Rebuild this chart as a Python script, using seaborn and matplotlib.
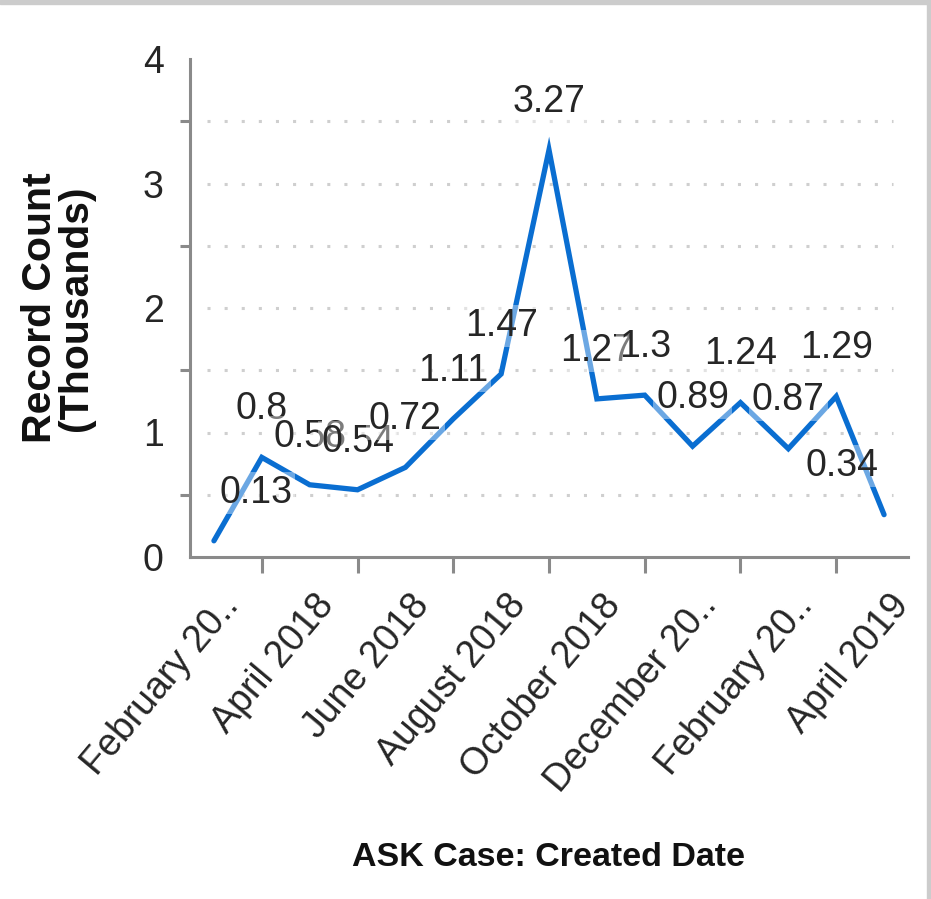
import matplotlib
matplotlib.use("Agg")
import matplotlib.pyplot as plt
from matplotlib import font_manager
from matplotlib.patches import Rectangle
from matplotlib.transforms import ScaledTranslation
import numpy as np
import pandas as pd
import seaborn as sns

# Monthly record counts (thousands) for ASK cases, Feb 2018 - Apr 2019
months = [
    "February 2018", "March 2018", "April 2018", "May 2018", "June 2018",
    "July 2018", "August 2018", "September 2018", "October 2018",
    "November 2018", "December 2018", "January 2019", "February 2019",
    "March 2019", "April 2019",
]
record_thousands = [0.13, 0.8, 0.58, 0.54, 0.72, 1.11, 1.47, 3.27,
                    1.27, 1.3, 0.89, 1.24, 0.87, 1.29, 0.34]
value_labels = ["0.13", "0.8", "0.58", "0.54", "0.72", "1.11", "1.47", "3.27",
                "1.27", "1.3", "0.89", "1.24", "0.87", "1.29", "0.34"]
# every other month is labelled on the date axis
tick_labels = ["February 20..", "April 2018", "June 2018", "August 2018",
               "October 2018", "December 20..", "February 20..", "April 2019"]
y_major = [0, 1, 2, 3, 4]
y_minor = [0.5, 1.5, 2.5, 3.5]

LINE_BLUE = "#0A6ED1"
AXIS_GRAY = "#8a8a8a"
GRID_GRAY = "#cfcfcf"
TEXT_DARK = "#262626"


def pick_font(*names):
    for name in names:
        try:
            font_manager.findfont(font_manager.FontProperties(family=name),
                                  fallback_to_default=False)
            return name
        except Exception:
            continue
    return "DejaVu Sans"


sns.set_theme(style="white")
NARROW = pick_font("Liberation Sans Narrow", "Liberation Sans", "Arial")
REGULAR = pick_font("Liberation Sans", "Arial")
plt.rcParams["font.family"] = [REGULAR, "DejaVu Sans"]

df = pd.DataFrame({"month": months, "pos": np.arange(len(months)),
                   "count": record_thousands})

fig = plt.figure(figsize=(9.31, 8.99), dpi=100)
fig.patch.set_facecolor("white")
ax = fig.add_axes([190 / 931, (899 - 557) / 899, 718 / 931, 498 / 899])
ax.set_facecolor("white")

sns.lineplot(data=df, x="pos", y="count", color=LINE_BLUE, linewidth=3.8,
             ax=ax, zorder=3, solid_joinstyle="miter")

ax.set_xlim(-0.5, len(months) - 0.5)
ax.set_ylim(y_major[0], y_major[-1])

# dotted horizontal guides at every half step (not at the frame edges)
for level in y_minor + y_major[1:-1]:
    ax.hlines(level, -0.15, len(months) - 0.81, colors=GRID_GRAY,
              linewidth=2.2, linestyles=[(0, (1, 4.6))], zorder=1)

# value labels above each point, on a translucent white backing
for i, (v, txt) in enumerate(zip(record_thousands, value_labels)):
    dx = 0
    if i == 0:
        dx = 30
    elif i == len(months) - 1:
        dx = -30
    ax.annotate(txt, (i, v), xytext=(dx, 27.5), textcoords="offset points",
                ha="center", va="baseline", fontsize=27, family=NARROW,
                color=TEXT_DARK, zorder=5,
                bbox=dict(boxstyle="square,pad=0.08", fc="white", ec="none",
                          alpha=0.4))

# axes frame
for side in ("top", "right"):
    ax.spines[side].set_visible(False)
for side in ("left", "bottom"):
    ax.spines[side].set_color(AXIS_GRAY)
    ax.spines[side].set_linewidth(2.2)

ax.set_yticks(y_major)
ax.set_yticks(y_minor, minor=True)
ax.set_yticklabels([str(t) for t in y_major], family=NARROW, fontsize=27,
                   color=TEXT_DARK)
ax.tick_params(axis="y", which="major", length=9.4, width=2.2,
               color=AXIS_GRAY, pad=9.5)
ax.tick_params(axis="y", which="minor", length=7, width=2.2, color=AXIS_GRAY,
               left=True)

label_pos = df["pos"].to_numpy()[::2]
ax.set_xticks(label_pos)
ax.set_xticks(df["pos"].to_numpy()[1::2], minor=True)
ax.set_xticklabels(tick_labels, rotation=50, ha="right", va="center",
                   rotation_mode="anchor", fontsize=27, family=REGULAR,
                   color=TEXT_DARK)
ax.tick_params(axis="x", which="major", length=0, pad=30.5)
ax.tick_params(axis="x", which="minor", length=11.5, width=2.2,
               color=AXIS_GRAY, bottom=True)
shift = ScaledTranslation(0.18, 0, fig.dpi_scale_trans)
for lab in ax.get_xticklabels():
    lab.set_transform(lab.get_transform() + shift)

ax.set_xlabel("ASK Case: Created Date", family=NARROW, fontsize=24.5,
              fontweight="bold", color="#111111")
ax.xaxis.label.set_va("center")
ax.xaxis.set_label_coords(0.5, (557 - 858) / 498)

ax.set_ylabel("Record Count\n(Thousands)", family=REGULAR, fontsize=29.5,
              fontweight="bold", color="#111111", linespacing=0.95)
ax.yaxis.label.set_va("center")
ax.yaxis.label.set_ha("center")
ax.yaxis.set_label_coords((58 - 190) / 718, 0.5)

# light frame along the top and right edges of the panel
fig.patches.append(Rectangle((0, 1 - 4 / 899), 1, 4 / 899,
                             transform=fig.transFigure, color="#cccccc",
                             zorder=0))
fig.patches.append(Rectangle((1 - 4 / 931, 0), 4 / 931, 1,
                             transform=fig.transFigure, color="#cccccc",
                             zorder=0))

fig.savefig("out.png", dpi=100, facecolor="white")
